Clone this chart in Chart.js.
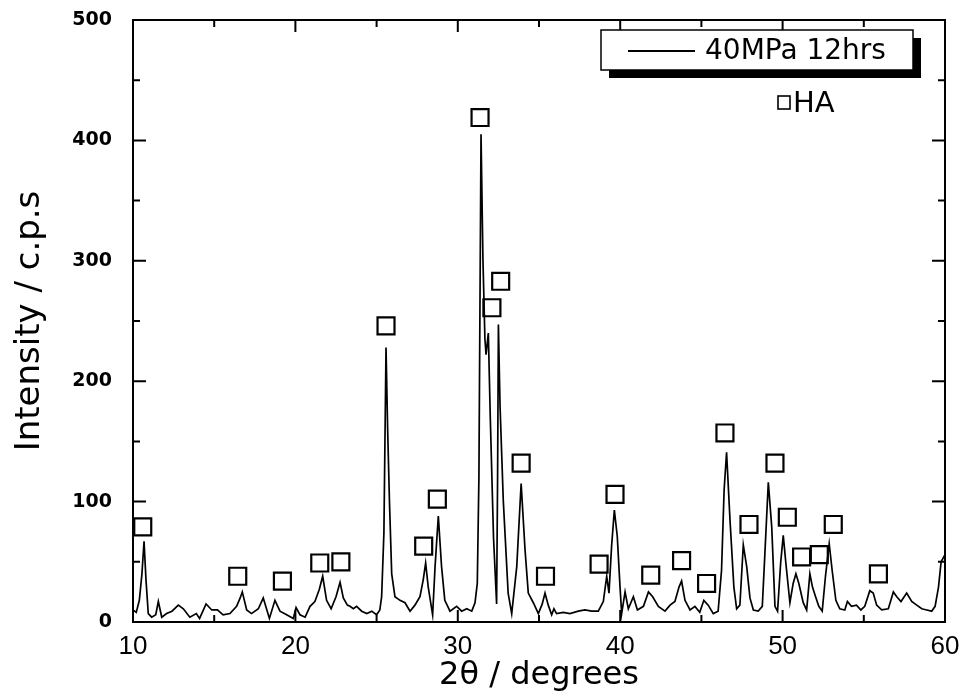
<!DOCTYPE html>
<html>
<head>
<meta charset="utf-8">
<script src="https://cdn.jsdelivr.net/npm/chart.js@4.4.1/dist/chart.umd.min.js"></script>
<style>
  body { margin: 0; background: #fff; }
  #wrap { width: 965px; height: 697px; }
</style>
</head>
<body>
<div id="wrap"><canvas id="xrd" width="965" height="697"></canvas></div>
<script>
// 2theta positions (degrees) and intensity (c.p.s)
const twoTheta = [
  10.0, 10.2, 10.39, 10.55, 10.68, 10.8, 10.94, 11.15, 11.4, 11.56, 11.77, 12.07, 12.4, 12.79, 13.1,
  13.5, 13.9, 14.1, 14.5, 14.85, 15.2, 15.55, 15.97, 16.38, 16.6, 16.73, 17.0, 17.3, 17.72, 18.02,
  18.4, 18.74, 19.05, 19.46, 19.87, 20.04, 20.28, 20.6, 20.9, 21.2, 21.47, 21.68, 21.92, 22.2, 22.5,
  22.75, 22.95, 23.2, 23.36, 23.57, 23.77, 24.08, 24.4, 24.7, 25.0, 25.2, 25.31, 25.45, 25.58, 25.68,
  25.79, 25.93, 26.13, 26.44, 26.75, 27.06, 27.36, 27.67, 27.87, 28.02, 28.18, 28.45, 28.6, 28.8, 29.0,
  29.2, 29.52, 29.93, 30.24, 30.55, 30.86, 31.06, 31.2, 31.3, 31.43, 31.55, 31.67, 31.74, 31.88, 32.0,
  32.2, 32.39, 32.45, 32.5, 32.6, 32.8, 33.1, 33.32, 33.63, 33.9, 34.14, 34.34, 34.65, 34.96, 35.2,
  35.37, 35.57, 35.78, 35.92, 36.08, 36.5, 36.9, 37.42, 37.83, 38.24, 38.65, 38.96, 39.17, 39.31, 39.47,
  39.64, 39.82, 39.99, 40.09, 40.3, 40.5, 40.81, 41.06, 41.43, 41.74, 42.0, 42.35, 42.76, 43.07, 43.37,
  43.62, 43.78, 43.99, 44.3, 44.6, 44.9, 45.15, 45.42, 45.73, 46.03, 46.24, 46.4, 46.55, 46.76, 47.0,
  47.17, 47.37, 47.58, 47.79, 47.99, 48.2, 48.5, 48.75, 48.91, 49.12, 49.33, 49.53, 49.69, 49.88, 50.04,
  50.2, 50.45, 50.65, 50.82, 51.0, 51.27, 51.48, 51.68, 51.84, 52.03, 52.23, 52.44, 52.64, 52.87, 53.05,
  53.28, 53.52, 53.83, 53.99, 54.24, 54.55, 54.82, 55.06, 55.37, 55.58, 55.79, 56.1, 56.51, 56.82, 57.03,
  57.29, 57.64, 57.95, 58.26, 58.57, 58.88, 59.18, 59.39, 59.6, 59.76, 60.0
];
const intensity = [
  10, 8, 18, 40, 67, 35, 7, 4, 6, 17, 4, 7, 9, 14, 11,
  4, 7, 3, 15, 10, 10, 6, 7, 13, 20, 25, 10, 7, 11, 20,
  3, 18, 9, 6, 3, 12, 6, 4, 13, 17, 27, 38, 18, 11, 21,
  33, 20, 14, 13, 11, 13, 9, 7, 9, 6, 10, 21, 74, 228, 160,
  101, 40, 21, 18, 16, 9, 14, 21, 35, 49, 29, 6, 46, 88, 46,
  18, 9, 13, 9, 11, 9, 16, 32, 120, 405, 300, 235, 222, 240, 170,
  70, 15, 120, 247, 180, 101, 24, 7, 46, 115, 60, 24, 16, 7, 15,
  24, 14, 6, 11, 7, 8, 7, 9, 10, 9, 9, 17, 38, 24, 63,
  93, 71, 29, 7, 25, 11, 21, 10, 13, 25, 21, 13, 9, 14, 17,
  29, 34, 18, 10, 13, 8, 18, 14, 7, 9, 43, 110, 141, 85, 29,
  11, 14, 64, 46, 20, 10, 9, 13, 57, 116, 79, 13, 9, 49, 72,
  49, 16, 32, 40, 32, 16, 10, 40, 29, 21, 13, 9, 38, 65, 43,
  18, 11, 10, 17, 13, 14, 10, 13, 26, 24, 14, 10, 11, 25, 21,
  17, 24, 17, 14, 11, 10, 9, 13, 29, 50, 56
];

// HA reflection markers (open squares)
const haTwoTheta = [10.6, 16.45, 19.2, 21.5, 22.8, 25.58, 27.9, 28.74, 31.37, 32.1, 32.64, 33.9, 35.4,
  38.7, 39.68, 41.88, 43.78, 45.32, 46.45, 47.93, 49.53, 50.29, 51.17, 52.26, 53.12, 55.9];
const haIntensity = [79, 38, 34, 49, 50, 246, 63, 102, 419, 261, 283, 132, 38,
  48, 106, 39, 51, 32, 157, 81, 132, 87, 54, 56, 81, 40];

const xTicks = [10, 20, 30, 40, 50, 60];
const yTicks = [0, 100, 200, 300, 400, 500];

const seriesLabel = "40MPa 12hrs";
const markerLabel = "HA";

// frame, inward ticks and the boxed legend
const framePlugin = {
  id: "framePlugin",
  afterDatasetsDraw(chart) {
    const { ctx, chartArea: a, scales } = chart;
    const x = scales.x, y = scales.y;
    ctx.save();
    ctx.strokeStyle = "#000";
    ctx.lineWidth = 2;
    ctx.strokeRect(a.left, a.top, a.right - a.left, a.bottom - a.top);

    ctx.beginPath();
    for (let i = 0; i < xTicks.length; i++) {
      const v = xTicks[i];
      let px = x.getPixelForValue(v);
      ctx.moveTo(px, a.bottom); ctx.lineTo(px, a.bottom - 12);
      ctx.moveTo(px, a.top); ctx.lineTo(px, a.top + 12);
      if (i < xTicks.length - 1) {
        px = x.getPixelForValue((v + xTicks[i + 1]) / 2);
        ctx.moveTo(px, a.bottom); ctx.lineTo(px, a.bottom - 7);
        ctx.moveTo(px, a.top); ctx.lineTo(px, a.top + 7);
      }
    }
    for (let i = 0; i < yTicks.length; i++) {
      const v = yTicks[i];
      let py = y.getPixelForValue(v);
      ctx.moveTo(a.left, py); ctx.lineTo(a.left + 13, py);
      ctx.moveTo(a.right, py); ctx.lineTo(a.right - 13, py);
      if (i < yTicks.length - 1) {
        py = y.getPixelForValue((v + yTicks[i + 1]) / 2);
        ctx.moveTo(a.left, py); ctx.lineTo(a.left + 7, py);
        ctx.moveTo(a.right, py); ctx.lineTo(a.right - 7, py);
      }
    }
    ctx.stroke();

    // legend box with drop shadow
    const bx = a.right - 344, by = a.top + 10, bw = 312, bh = 40;
    ctx.fillStyle = "#000";
    ctx.fillRect(bx + 8, by + 8, bw, bh);
    ctx.fillStyle = "#fff";
    ctx.fillRect(bx, by, bw, bh);
    ctx.lineWidth = 1.5;
    ctx.strokeRect(bx, by, bw, bh);
    ctx.lineWidth = 2;
    ctx.beginPath();
    ctx.moveTo(bx + 27, by + 21);
    ctx.lineTo(bx + 94, by + 21);
    ctx.stroke();
    ctx.fillStyle = "#000";
    ctx.font = "28px 'DejaVu Sans'";
    ctx.textBaseline = "middle";
    ctx.textAlign = "left";
    ctx.fillText(seriesLabel, bx + 104, by + 22);

    // HA key
    ctx.lineWidth = 1.6;
    ctx.strokeRect(a.left + 645, a.top + 76, 12, 13);
    ctx.font = "29px 'DejaVu Sans'";
    ctx.fillText(markerLabel, a.left + 660, a.top + 84);
    ctx.restore();
  }
};

new Chart(document.getElementById("xrd"), {
  data: {
    datasets: [
      {
        type: "line",
        label: seriesLabel,
        data: twoTheta.map((t, i) => ({ x: t, y: intensity[i] })),
        borderColor: "#000",
        borderWidth: 1.7,
        pointRadius: 0,
        tension: 0,
        fill: false,
        order: 2
      },
      {
        type: "scatter",
        label: markerLabel,
        data: haTwoTheta.map((t, i) => ({ x: t, y: haIntensity[i] })),
        pointStyle: "rect",
        pointRadius: 12,
        borderColor: "#000",
        borderWidth: 2.2,
        backgroundColor: "rgba(0,0,0,0)",
        order: 1
      }
    ]
  },
  options: {
    responsive: false,
    animation: false,
    layout: { padding: { left: 0, right: 20, top: 20, bottom: 0 } },
    plugins: { legend: { display: false }, tooltip: { enabled: false } },
    scales: {
      x: {
        type: "linear",
        min: 10,
        max: 60,
        afterBuildTicks: (s) => { s.ticks = xTicks.map(v => ({ value: v })); },
        afterFit: (s) => { s.height = 75; },
        // tick marks are drawn by the plugin; tickLength only spaces the labels
        grid: { display: false, drawTicks: true, tickLength: 9 },
        border: { display: false },
        ticks: { color: "#000", padding: 0, font: { family: "'Liberation Sans Narrow', 'Liberation Sans'", size: 26 } },
        title: {
          display: true,
          text: "2θ / degrees",
          color: "#000",
          font: { family: "'DejaVu Sans'", size: 32 },
          padding: { top: 0, bottom: 2 }
        }
      },
      y: {
        type: "linear",
        min: 0,
        max: 500,
        afterBuildTicks: (s) => { s.ticks = yTicks.map(v => ({ value: v })); },
        afterFit: (s) => { s.width = 133; },
        grid: { display: false, drawTicks: true, tickLength: 21 },
        border: { display: false },
        ticks: { color: "#000", padding: 0, font: { family: "'DejaVu Sans'", size: 19, weight: "bold" } },
        title: {
          display: true,
          text: "Intensity / c.p.s",
          color: "#000",
          font: { family: "'DejaVu Sans'", size: 34 },
          padding: { top: 10, bottom: 0 }
        }
      }
    }
  },
  plugins: [framePlugin]
});
</script>
</body>
</html>
